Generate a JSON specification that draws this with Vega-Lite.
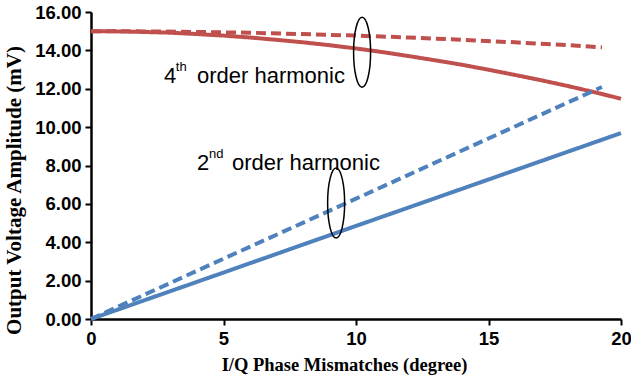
{
  "$schema": "https://vega.github.io/schema/vega-lite/v6.json",
  "width": 530,
  "height": 307,
  "autosize": {"type": "none"},
  "padding": {"left": 91, "top": 12, "right": 10, "bottom": 62},
  "background": "white",
  "config": {
    "view": {"stroke": null},
    "axis": {
      "grid": false,
      "domainColor": "black",
      "domainWidth": 2.5,
      "tickColor": "black",
      "tickWidth": 2,
      "tickSize": 6,
      "labelFont": "Liberation Sans",
      "labelFontWeight": "bold",
      "labelFontSize": 18.5,
      "labelColor": "black",
      "labelOverlap": false,
      "titleFont": "Liberation Serif",
      "titleFontWeight": "bold",
      "titleColor": "black"
    }
  },
  "datasets": {
    "lines": [
      {"x": 0, "y": 15.0, "harmonic": "4th", "style": "solid"},
      {"x": 1, "y": 14.99, "harmonic": "4th", "style": "solid"},
      {"x": 2, "y": 14.96, "harmonic": "4th", "style": "solid"},
      {"x": 3, "y": 14.92, "harmonic": "4th", "style": "solid"},
      {"x": 4, "y": 14.85, "harmonic": "4th", "style": "solid"},
      {"x": 5, "y": 14.77, "harmonic": "4th", "style": "solid"},
      {"x": 6, "y": 14.67, "harmonic": "4th", "style": "solid"},
      {"x": 7, "y": 14.55, "harmonic": "4th", "style": "solid"},
      {"x": 8, "y": 14.42, "harmonic": "4th", "style": "solid"},
      {"x": 9, "y": 14.27, "harmonic": "4th", "style": "solid"},
      {"x": 10, "y": 14.1, "harmonic": "4th", "style": "solid"},
      {"x": 11, "y": 13.91, "harmonic": "4th", "style": "solid"},
      {"x": 12, "y": 13.7, "harmonic": "4th", "style": "solid"},
      {"x": 13, "y": 13.48, "harmonic": "4th", "style": "solid"},
      {"x": 14, "y": 13.25, "harmonic": "4th", "style": "solid"},
      {"x": 15, "y": 12.99, "harmonic": "4th", "style": "solid"},
      {"x": 16, "y": 12.72, "harmonic": "4th", "style": "solid"},
      {"x": 17, "y": 12.44, "harmonic": "4th", "style": "solid"},
      {"x": 18, "y": 12.14, "harmonic": "4th", "style": "solid"},
      {"x": 19, "y": 11.82, "harmonic": "4th", "style": "solid"},
      {"x": 20, "y": 11.48, "harmonic": "4th", "style": "solid"},
      {"x": 0, "y": 15.0, "harmonic": "4th", "style": "dashed"},
      {"x": 2, "y": 14.99, "harmonic": "4th", "style": "dashed"},
      {"x": 4, "y": 14.96, "harmonic": "4th", "style": "dashed"},
      {"x": 6, "y": 14.92, "harmonic": "4th", "style": "dashed"},
      {"x": 8, "y": 14.85, "harmonic": "4th", "style": "dashed"},
      {"x": 10, "y": 14.77, "harmonic": "4th", "style": "dashed"},
      {"x": 12, "y": 14.67, "harmonic": "4th", "style": "dashed"},
      {"x": 14, "y": 14.55, "harmonic": "4th", "style": "dashed"},
      {"x": 16, "y": 14.42, "harmonic": "4th", "style": "dashed"},
      {"x": 18, "y": 14.27, "harmonic": "4th", "style": "dashed"},
      {"x": 19.28, "y": 14.16, "harmonic": "4th", "style": "dashed"},
      {"x": 0, "y": 0, "harmonic": "2nd", "style": "solid"},
      {"x": 5, "y": 2.42, "harmonic": "2nd", "style": "solid"},
      {"x": 10, "y": 4.85, "harmonic": "2nd", "style": "solid"},
      {"x": 15, "y": 7.27, "harmonic": "2nd", "style": "solid"},
      {"x": 20, "y": 9.69, "harmonic": "2nd", "style": "solid"},
      {"x": 0, "y": 0, "harmonic": "2nd", "style": "dashed"},
      {"x": 5, "y": 3.14, "harmonic": "2nd", "style": "dashed"},
      {"x": 10, "y": 6.27, "harmonic": "2nd", "style": "dashed"},
      {"x": 15, "y": 9.41, "harmonic": "2nd", "style": "dashed"},
      {"x": 19.28, "y": 12.09, "harmonic": "2nd", "style": "dashed"}
    ],
    "labels": [
      {"x": 2.75, "y": 12.29, "text": "4", "part": "main"},
      {"x": 3.2, "y": 12.29, "text": "th", "part": "sup"},
      {"x": 4.0, "y": 12.29, "text": "order harmonic", "part": "main"},
      {"x": 4.0, "y": 7.76, "text": "2", "part": "main"},
      {"x": 4.45, "y": 7.76, "text": "nd", "part": "sup"},
      {"x": 5.32, "y": 7.76, "text": "order harmonic", "part": "main"}
    ],
    "ellipses": [
      {"x": 10.23, "y": 13.9},
      {"x": 9.25, "y": 6.04}
    ]
  },
  "encoding": {
    "x": {
      "field": "x", "type": "quantitative",
      "scale": {"domain": [0, 20], "nice": false},
      "axis": {"values": [0, 5, 10, 15, 20], "title": "I/Q Phase Mismatches (degree)", "titleFontSize": 18.5, "titleX": 253, "labelPadding": 4, "titlePadding": 8, "labelFlush": false, "labelOverlap": false}
    },
    "y": {
      "field": "y", "type": "quantitative",
      "scale": {"domain": [0, 16], "nice": false},
      "axis": {"values": [0, 2, 4, 6, 8, 10, 12, 14, 16], "format": ".2f", "title": "Output Voltage Amplitude  (mV)", "titleFontSize": 21, "titleY": 178, "labelPadding": 4, "titlePadding": 10, "labelFlush": false, "labelOverlap": false}
    }
  },
  "layer": [
    {
      "data": {"name": "lines"},
      "mark": {"type": "line", "strokeWidth": 4, "strokeCap": "butt", "clip": false},
      "encoding": {
        "color": {"field": "harmonic", "type": "nominal", "scale": {"domain": ["4th", "2nd"], "range": ["#C0504D", "#4F81BD"]}, "legend": null},
        "strokeDash": {"field": "style", "type": "nominal", "scale": {"domain": ["solid", "dashed"], "range": [[1, 0], [10, 5]]}, "legend": null},
        "order": {"field": "x", "type": "quantitative"}
      }
    },
    {
      "data": {"name": "labels"},
      "transform": [{"filter": "datum.part === 'main'"}],
      "mark": {"type": "text", "align": "left", "baseline": "alphabetic", "font": "Liberation Sans", "fontSize": 22, "color": "black"},
      "encoding": {
        "text": {"field": "text"}
      }
    },
    {
      "data": {"name": "labels"},
      "transform": [{"filter": "datum.part === 'sup'"}],
      "mark": {"type": "text", "align": "left", "baseline": "alphabetic", "font": "Liberation Sans", "fontSize": 13, "dy": -12, "color": "black"},
      "encoding": {
        "text": {"field": "text"}
      }
    },
    {
      "data": {"name": "ellipses"},
      "mark": {
        "type": "point",
        "filled": false,
        "stroke": "black",
        "strokeWidth": 1.5,
        "opacity": 1,
        "size": 4900,
        "shape": "M0,-1A0.243,1,0,1,1,0,1A0.243,1,0,1,1,0,-1Z"
      },
      "encoding": {}
    }
  ]
}
